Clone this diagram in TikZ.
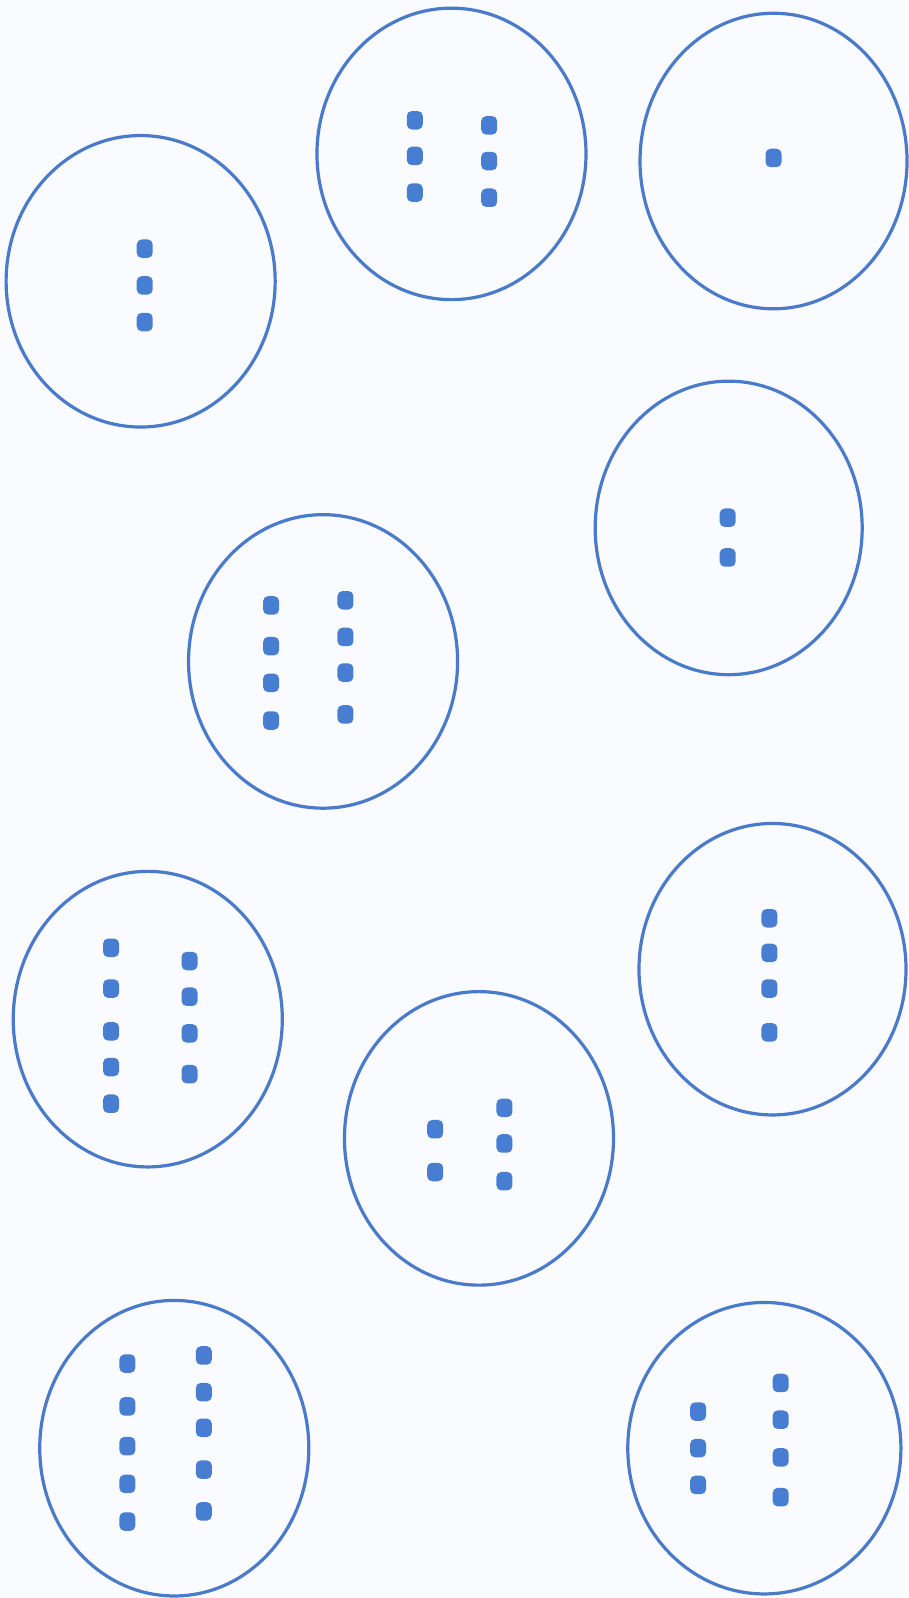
\documentclass[tikz,border=0pt]{standalone}
\usepackage{xcolor}
\usepackage{tikz}
\usetikzlibrary{calc}
\definecolor{ringblue}{RGB}{74,122,202}
\definecolor{dotblue}{RGB}{72,126,210}
\definecolor{paper}{RGB}{250,251,254}

\begin{document}
\begin{tikzpicture}[
  x=1.0191pt, y=-1.0191pt,
  ring/.style = {draw=ringblue, line width=3.2pt},
  chip/.style = {fill=dotblue, rounded corners=5pt, inner sep=0pt,
                 minimum width=16pt, minimum height=18.5pt},
]
\fill[paper] (0,0) rectangle (890,1568);
% the ten rings
\draw[ring] (138,276)  ellipse [x radius=132, y radius=143];
\draw[ring] (443,151)  ellipse [x radius=132, y radius=143];
\draw[ring] (759,158)  ellipse [x radius=131, y radius=145];
\draw[ring] (715,518)  ellipse [x radius=131, y radius=144];
\draw[ring] (317,649)  ellipse [x radius=132, y radius=144];
\draw[ring] (145,1000) ellipse [x radius=132, y radius=145];
\draw[ring] (758,951)  ellipse [x radius=131, y radius=143];
\draw[ring] (470,1117) ellipse [x radius=132, y radius=144];
\draw[ring] (171,1421) ellipse [x radius=132, y radius=145];
\draw[ring] (750,1421) ellipse [x radius=134, y radius=143];
% dots
\foreach \y [count=\i] in {244,280,316}
  \node[chip] (a\i) at (142,\y) {};
\foreach \y [count=\i] in {118,153,189}
  \node[chip] (bl\i) at (407,\y) {};
\foreach \y [count=\i] in {123,158,194}
  \node[chip] (br\i) at (480,\y) {};
\node[chip] (c1) at (759,155) {};
\foreach \y [count=\i] in {508,547}
  \node[chip] (d\i) at (714,\y) {};
\foreach \y [count=\i] in {594,634,670,707}
  \node[chip] (el\i) at (266,\y) {};
\foreach \y [count=\i] in {589,625,660,701}
  \node[chip] (er\i) at (339,\y) {};
\foreach \y [count=\i] in {930,970,1012,1047,1083}
  \node[chip] (fl\i) at (109,\y) {};
\foreach \y [count=\i] in {943,978,1014,1054}
  \node[chip] (fr\i) at (186,\y) {};
\foreach \y [count=\i] in {901,935,970,1013}
  \node[chip] (g\i) at (755,\y) {};
\foreach \y [count=\i] in {1108,1150}
  \node[chip] (hl\i) at (427,\y) {};
\foreach \y [count=\i] in {1087,1122,1159}
  \node[chip] (hr\i) at (495,\y) {};
\foreach \y [count=\i] in {1338,1380,1419,1456,1493}
  \node[chip] (il\i) at (125,\y) {};
\foreach \y [count=\i] in {1330,1366,1401,1442,1483}
  \node[chip] (ir\i) at (200,\y) {};
\foreach \y [count=\i] in {1385,1421,1457}
  \node[chip] (jl\i) at (685,\y) {};
\foreach \y [count=\i] in {1357,1393,1430,1469}
  \node[chip] (jr\i) at (766,\y) {};
\end{tikzpicture}
\end{document}
